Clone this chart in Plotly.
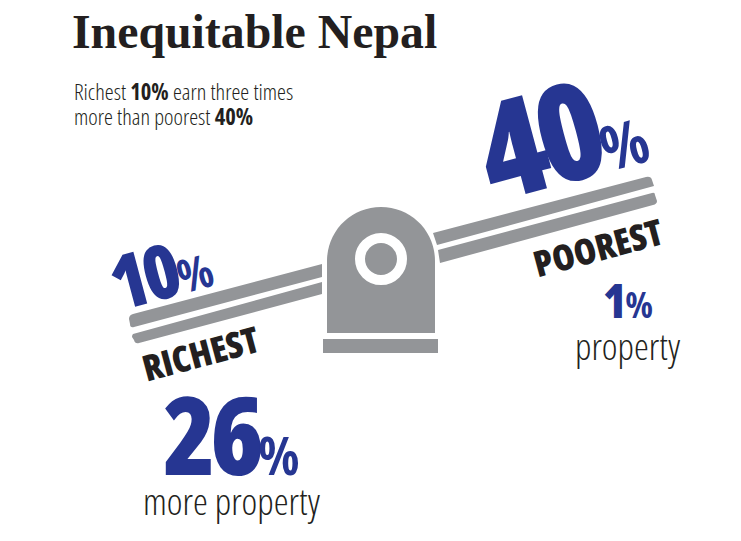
import plotly.graph_objects as go

title = "Inequitable Nepal"
subtitle = [("Richest ", "10%", " earn three times"), ("more than poorest ", "40%", "")]
income_share = [10, 40]
property_share = [26, 1]
groups = ["RICHEST", "POOREST"]
property_labels = ["more property", "property"]

BLUE = "#263692"
GREY = "#939598"
DARK = "#231f20"

# plank pieces and stand, in pixels of the 741x541 page
plank_paths = [
    "M 133 314 L 322 264 L 322 277 L 134 327 Q 130 328 130 324 L 129 319 Q 129 315 133 314 Z",
    "M 133 334 L 322 282 L 322 294 L 139 343 Q 135 344 134 340 L 132 337 Q 132 335 133 334 Z",
    "M 433 233 L 646 177 Q 651 176 652 180 L 654 186 L 437 245 Z",
    "M 438 250 L 652 193 Q 655 192 655 195 L 657 201 Q 657 204 653 205 L 440 263 Z",
]
stand_path = "M 327 261 C 327 231 351 207 381 207 C 411 207 435 231 435 261 L 435 333 L 327 333 Z"

fig = go.Figure()

for p in plank_paths + [stand_path]:
    fig.add_shape(type="path", path=p, fillcolor=GREY, line_width=0)
fig.add_shape(type="rect", x0=323, x1=438, y0=339, y1=353, fillcolor=GREY, line_width=0)
fig.add_shape(type="circle", x0=360, x1=402, y0=238, y1=280, fillcolor=GREY,
              line=dict(color="white", width=10))


def cond(text, weight=400):
    return "<span style='font-stretch:75%%;font-weight:%d'>%s</span>" % (weight, text)


# big number with a smaller percent sign on the same baseline
def share(value, size, pct_size, spacing):
    return ("<span style='font-stretch:75%%;font-weight:800;letter-spacing:%dpx;font-size:%dpx'>%d</span>"
            "<span style='font-stretch:75%%;font-weight:700;font-size:%dpx'>%%</span>"
            % (spacing, size, value, pct_size))


def label(x, y, text, size, color=DARK, angle=0, family="Open Sans", anchor="center"):
    fig.add_annotation(x=x, y=y, text=text, showarrow=False, textangle=angle, xanchor=anchor,
                       yanchor="middle", font=dict(family=family, size=size, color=color))


label(70, 31, "<b>" + title + "</b>", 47.8, family="Liberation Serif", anchor="left")
for i, (a, b, c) in enumerate(subtitle):
    label(72, 91 + i * 25, cond(a, 300) + cond(b, 700) + cond(c, 300), 22.5, anchor="left")

# income shares on the plank
label(160, 270, share(income_share[0], 75, 46, -4), 52, BLUE, -15)
label(560, 131, share(income_share[1], 135, 62, -8), 100, BLUE, -15)

label(200, 353, cond(groups[0], 800), 36, DARK, -15)
label(598, 247, cond(groups[1], 800), 36, DARK, -15)

# property shares
label(231, 433, share(property_share[0], 108, 54, -6), 80, BLUE)
label(628, 300, share(property_share[1], 47, 36, -1), 40, BLUE)
label(231.5, 500, cond(property_labels[0], 300), 37.5)
label(628, 345, cond(property_labels[1], 300), 37.5)

fig.update_xaxes(range=[0, 741], visible=False)
fig.update_yaxes(range=[541, 0], visible=False)
fig.update_layout(width=741, height=541, margin=dict(l=0, r=0, t=0, b=0),
                  paper_bgcolor="white", plot_bgcolor="white", showlegend=False)

fig.write_html("out.html", config=dict(displayModeBar=False),
               post_script="document.body.style.margin='0';")
